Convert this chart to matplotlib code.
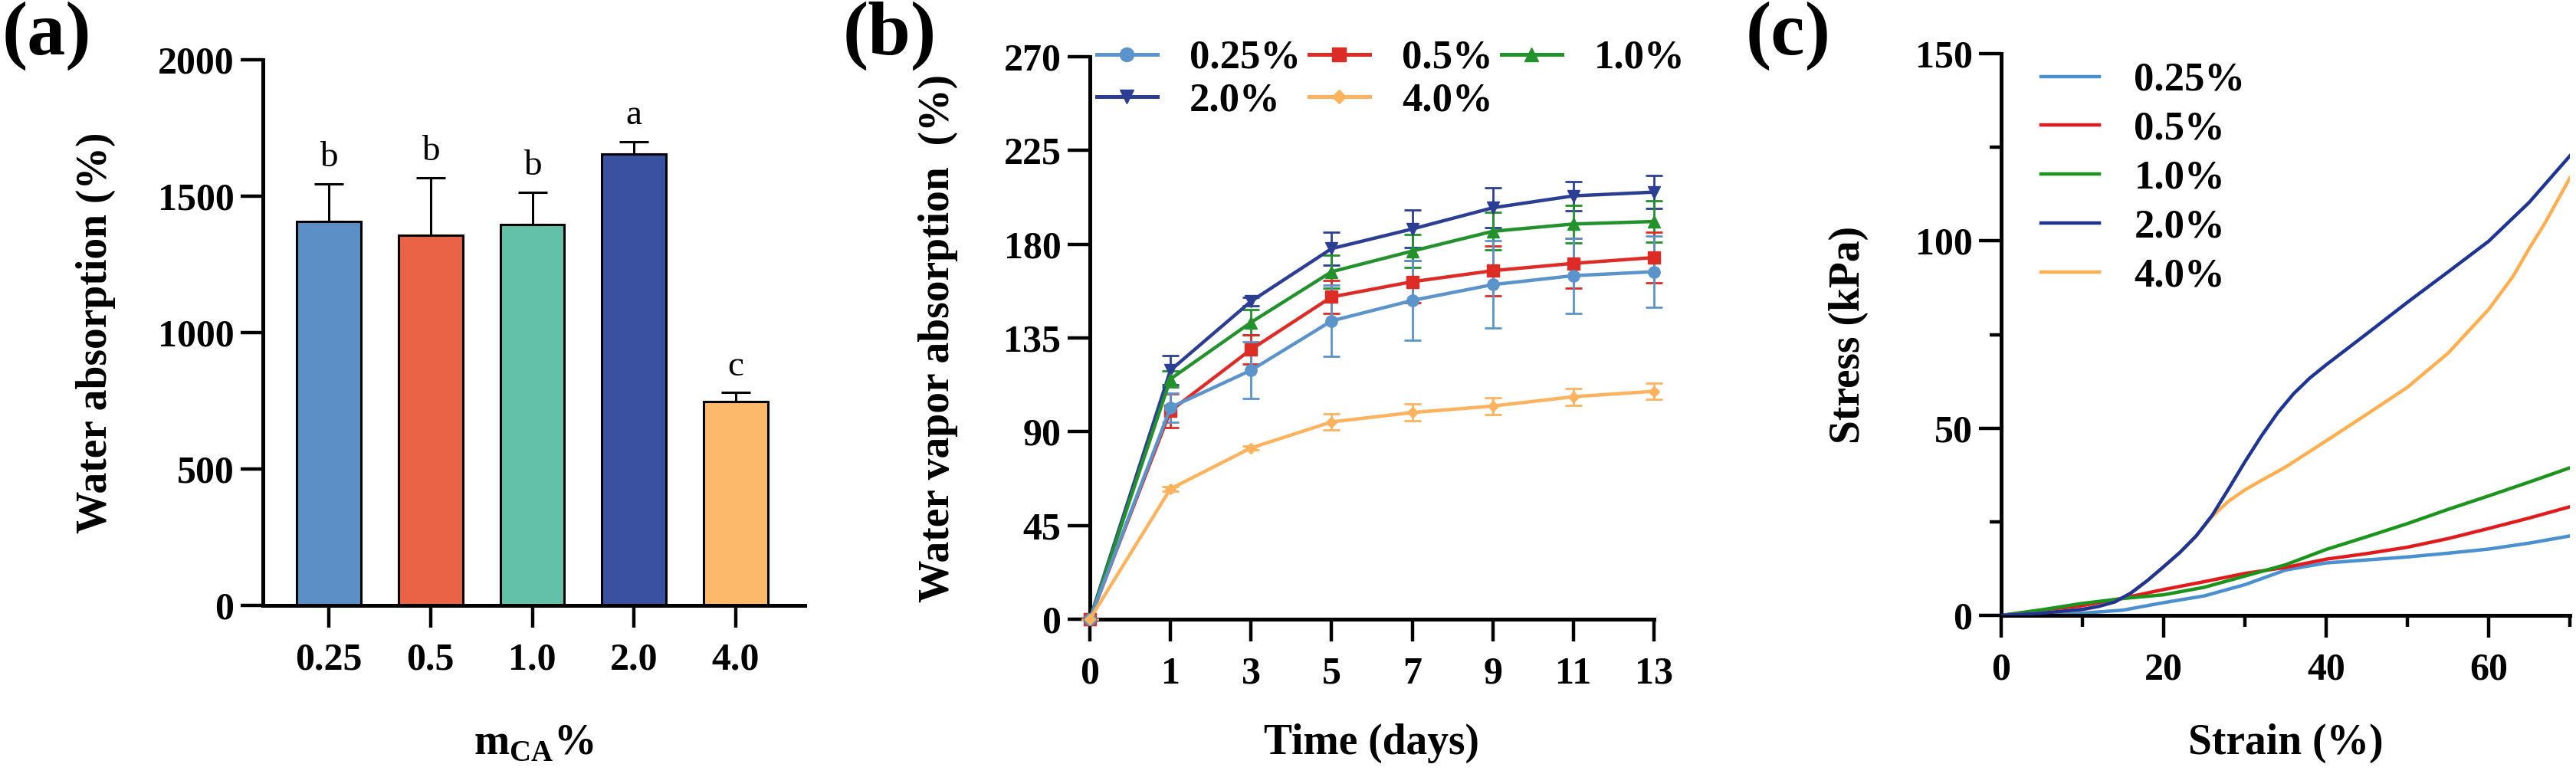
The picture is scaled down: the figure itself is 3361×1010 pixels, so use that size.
import numpy as np
import matplotlib
matplotlib.use("Agg")
import matplotlib.pyplot as plt
from matplotlib.ticker import MultipleLocator
from matplotlib.lines import Line2D

plt.rcParams['font.family'] = ['Liberation Serif', 'DejaVu Serif']
plt.rcParams['font.weight'] = 'bold'
plt.rcParams['axes.labelweight'] = 'bold'
plt.rcParams['mathtext.fontset'] = 'custom'
plt.rcParams['mathtext.bf'] = 'Liberation Serif:bold'
plt.rcParams['mathtext.rm'] = 'Liberation Serif:bold'

# ---------------- data ----------------
# (a) water absorption
conc_labels = ['0.25', '0.5', '1.0', '2.0', '4.0']
wa_mean = [1406, 1356, 1396, 1655, 748]
wa_err = [140, 212, 119, 45, 32]
wa_letters = ['b', 'b', 'b', 'a', 'c']
bar_colors = ['#5B8FC5', '#EB6346', '#63C1A9', '#3A51A2', '#FDB96B']

# (b) water vapor absorption
days = ['0', '1', '3', '5', '7', '9', '11', '13']
wv_025 = [0, 101.6, 119.5, 143.2, 153.0, 160.6, 164.9, 166.8]
wv_025_err = [0, 7, 13.5, 17, 19, 21, 18, 17]
wv_05 = [0, 100.0, 129.5, 154.7, 162.0, 167.3, 170.8, 173.6]
wv_05_err = [0, 8, 7, 8, 10, 12, 12, 12]
wv_10 = [0, 115.3, 142.5, 166.8, 176.7, 186.2, 189.7, 190.9]
wv_10_err = [0, 4, 6, 8, 8, 9, 9, 10]
wv_20 = [0, 119.5, 152.6, 177.9, 187.3, 197.5, 203.2, 205.0]
wv_20_err = [0, 7, 2, 8, 9, 9.5, 7, 8]
wv_40 = [0, 62.6, 82.2, 94.7, 99.2, 102.3, 106.8, 109.4]
wv_40_err = [0, 1, 1, 4, 4, 4, 4, 4]

# (c) stress-strain
strain = [0, 5, 10, 15, 20, 25, 30, 35, 40, 45, 50, 55, 60, 65, 70]
stress_025 = [0, 0.2, 0.6, 1.4, 3.4, 5.2, 8.2, 12.1, 14.0, 14.8, 15.6, 16.6, 17.7, 19.3, 21.2]
stress_05 = [0, 1.3, 2.6, 4.6, 6.9, 9.0, 11.2, 12.8, 15.0, 16.5, 18.2, 20.5, 23.2, 26.0, 29.0]
stress_10 = [0, 1.5, 3.2, 4.5, 5.5, 7.5, 10.5, 13.5, 17.6, 21.0, 24.5, 28.3, 31.9, 35.6, 39.4]
strain_20 = [0, 5, 10, 12, 14, 16, 18, 20, 22, 24, 26, 28, 30, 32, 34, 36, 38, 40,
             45, 50, 55, 60, 65, 70]
stress_20 = [0, 0.6, 1.6, 2.4, 3.6, 6.0, 9.3, 13.0, 16.8, 21.2, 26.8, 33.8, 41.0, 47.8,
             54.0, 59.2, 63.4, 66.9, 75.2, 83.6, 91.7, 99.9, 110.3, 122.7]
strain_40 = [0, 5, 10, 12, 14, 16, 18, 20, 22, 24, 26, 28, 30, 32, 35, 40, 45, 50,
             55, 60, 63, 65, 67, 70]
stress_40 = [0, 0.6, 1.6, 2.4, 3.6, 6.0, 9.3, 13.0, 16.8, 21.2, 26.5, 30.5, 33.5, 36.0,
             39.6, 46.6, 53.7, 60.9, 70.0, 81.7, 90.5, 98.0, 105.0, 116.8]

W, H = 3362, 1010
fig = plt.figure(figsize=(W / 100, H / 100), dpi=100)

def rect(l, r, t, b):
    return [l / W, 1 - b / H, (r - l) / W, (b - t) / H]

def style_axes(ax):
    for s in ['top', 'right']:
        ax.spines[s].set_visible(False)
    for s in ['left', 'bottom']:
        ax.spines[s].set_linewidth(3.6)
    ax.tick_params(which='major', direction='out', length=21, width=3.2,
                   labelsize=36, pad=6)
    ax.tick_params(which='minor', direction='out', length=11, width=3.2)
    for lab in ax.get_xticklabels() + ax.get_yticklabels():
        lab.set_fontweight('bold')

# ---------------- (a) ----------------
ax0 = fig.add_axes(rect(343, 1050, 78, 790))
xpos = np.arange(len(conc_labels))
ax0.bar(xpos, wa_mean, width=0.63, color=bar_colors, edgecolor='black',
        linewidth=2.2, zorder=2)
ax0.errorbar(xpos, wa_mean, yerr=[[0] * len(wa_err), wa_err], fmt='none',
             ecolor='black', elinewidth=2.2, capsize=14, capthick=2.2, zorder=1)
for x, m, e, t in zip(xpos, wa_mean, wa_err, wa_letters):
    ax0.text(x, m + e + 35, t, ha='center', va='bottom', fontsize=34,
             fontweight='normal')
ax0.set_xlim(-0.65, 4.68)
ax0.set_ylim(0, 2000)
ax0.set_yticks([0, 500, 1000, 1500, 2000])
ax0.set_xticks(xpos)
ax0.set_xticklabels(conc_labels)
style_axes(ax0)
ax0.tick_params(axis='x', pad=14)
ax0.set_ylabel('Water absorption (%)', fontsize=40)
ax0.yaxis.set_label_coords(-0.272, 0.5)
ax0.set_xlabel('m$_{\\mathbf{CA}}$%', fontsize=40)
ax0.xaxis.set_label_coords(0.5, -0.253)
ax0.xaxis.label.set_va('center')

# ---------------- (b) ----------------
ax1 = fig.add_axes(rect(1422, 2158, 74, 808))
xb = np.arange(len(days))
series_b = [
    (wv_20, wv_20_err, '#2C3E94', 'v', '2.0%'),
    (wv_10, wv_10_err, '#23922C', '^', '1.0%'),
    (wv_05, wv_05_err, '#DD2C26', 's', '0.5%'),
    (wv_025, wv_025_err, '#5B93CB', 'o', '0.25%'),
    (wv_40, wv_40_err, '#FDB35E', 'D', '4.0%'),
]
handles = {}
for y, e, c, m, lab in series_b:
    ms = 11 if m != 'D' else 7
    h = ax1.errorbar(xb, y, yerr=e, color=c, marker=m, markersize=ms,
                     linewidth=3.2, elinewidth=2, capsize=8, capthick=2,
                     clip_on=False, zorder=3)
    h.lines[0].set_clip_on(False)
    handles[lab] = Line2D([], [], color=c, marker=m, markersize=ms + 2, linewidth=3.6)
ax1.set_xlim(0, 7)
ax1.set_ylim(0, 270)
ax1.set_yticks(np.arange(0, 271, 45))
ax1.set_xticks(xb)
ax1.set_xticklabels(days)
style_axes(ax1)
ax1.tick_params(axis='x', pad=14)
order = ['0.25%', '2.0%', '0.5%', '4.0%', '1.0%']
ax1.legend([handles[k] for k in order], order, ncol=3, loc='upper left',
           bbox_to_anchor=(0.012, 1.03), frameon=False, fontsize=38,
           handlelength=1.5, handletextpad=0.8, columnspacing=0.2,
           labelspacing=0.15, borderpad=0, borderaxespad=0)
ax1.set_ylabel('Water vapor absorption  (%)', fontsize=40)
ax1.yaxis.set_label_coords(-0.234, 0.5)
ax1.set_xlabel('Time (days)', fontsize=40)
ax1.xaxis.set_label_coords(0.5, -0.221)
ax1.xaxis.label.set_va('center')

# ---------------- (c) ----------------
ax2 = fig.add_axes(rect(2611, 3353, 70, 803))
ax2.plot(strain, stress_025, color='#4A90D0', lw=3.2, label='0.25%')
ax2.plot(strain, stress_05, color='#E31A1C', lw=3.2, label='0.5%')
ax2.plot(strain, stress_10, color='#1A941A', lw=3.2, label='1.0%')
ax2.plot(strain_40, stress_40, color='#FFAF50', lw=3.2, label='4.0%', zorder=2)
ax2.plot(strain_20, stress_20, color='#1F3593', lw=3.2, label='2.0%', zorder=3)
ax2.set_xlim(0, 70)
ax2.set_ylim(0, 150)
ax2.xaxis.set_major_locator(MultipleLocator(20))
ax2.xaxis.set_minor_locator(MultipleLocator(10))
ax2.yaxis.set_major_locator(MultipleLocator(50))
ax2.yaxis.set_minor_locator(MultipleLocator(25))
style_axes(ax2)
ax2.tick_params(axis='x', which='major', pad=14)
hc, lc = ax2.get_legend_handles_labels()
idx = [lc.index(k) for k in ['0.25%', '0.5%', '1.0%', '2.0%', '4.0%']]
ax2.legend([hc[i] for i in idx], [lc[i] for i in idx], loc='upper left',
           bbox_to_anchor=(0.07, 0.985), frameon=False, fontsize=38,
           handlelength=1.45, handletextpad=0.85, labelspacing=0.3,
           borderpad=0, borderaxespad=0)
ax2.set_ylabel('Stress (kPa)', fontsize=40)
ax2.yaxis.set_label_coords(-0.233, 0.5)
ax2.set_xlabel('Strain (%)', fontsize=40)
ax2.xaxis.set_label_coords(0.5, -0.228)
ax2.xaxis.label.set_va('center')

# panel letters
for x, t in [(3, '(a)'), (1100, '(b)'), (2278, '(c)')]:
    fig.text(x / W, 1 - 2 / H, t, fontsize=72, fontweight='bold', ha='left', va='top')

fig.savefig('out.png', dpi=100)
